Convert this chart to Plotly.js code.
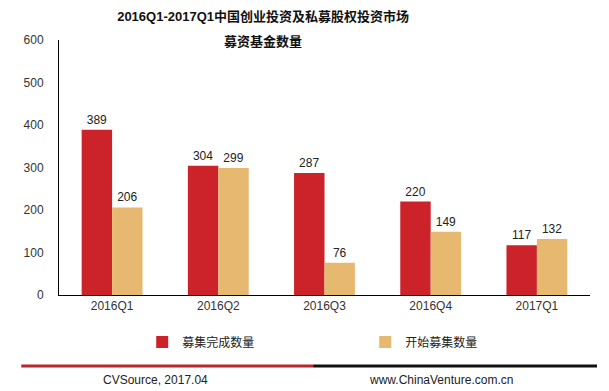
<!DOCTYPE html>
<html>
<head>
<meta charset="utf-8">
<script src="https://cdn.plot.ly/plotly-3.0.1.min.js"></script>
<style>html,body{margin:0;padding:0;background:#fff;}#chart{width:609px;height:391px;}</style>
</head>
<body>
<div id="chart"></div>
<script>
const categories = ['2016Q1', '2016Q2', '2016Q3', '2016Q4', '2017Q1'];
const completedFunds = [389, 304, 287, 220, 117];
const startedFunds = [206, 299, 76, 149, 132];
const seriesNames = ['募集完成数量', '开始募集数量'];
const yTicks = [0, 100, 200, 300, 400, 500, 600];

const FONT = '"Liberation Sans", Arial, "Noto Sans CJK SC", sans-serif';
const RED = '#cc2229';
const TAN = '#e7b870';

const traces = [
  {type: 'bar', name: seriesNames[0], x: categories, y: completedFunds,
   marker: {color: RED}, text: completedFunds.map(String), textposition: 'outside',
   textfont: {family: FONT, size: 12, color: '#222'}, cliponaxis: false},
  {type: 'bar', name: seriesNames[1], x: categories, y: startedFunds,
   marker: {color: TAN}, text: startedFunds.map(String), textposition: 'outside',
   textfont: {family: FONT, size: 12, color: '#222'}, cliponaxis: false}
];

const layout = {
  width: 609, height: 391,
  margin: {l: 58.75, r: 19, t: 40, b: 96, pad: 0},
  paper_bgcolor: '#fff', plot_bgcolor: '#fff',
  font: {family: FONT, size: 12, color: '#333'},
  barmode: 'group', bargap: 0.427, bargroupgap: 0,
  title: {text: '<b>2016Q1-2017Q1中国创业投资及私募股权投资市场</b>',
    x: 0.432, xanchor: 'center', y: 0.959, yanchor: 'middle',
    font: {family: FONT, size: 13, color: '#111'}},
  xaxis: {type: 'category', showline: true, linecolor: '#000', linewidth: 1,
    showgrid: false, ticks: '', tickfont: {family: FONT, size: 12, color: '#333'}},
  yaxis: {range: [0, 600], tickvals: yTicks, showline: true, linecolor: '#000', linewidth: 1,
    showgrid: false, zeroline: false, ticks: 'outside', ticklen: 12, tickcolor: 'rgba(0,0,0,0)',
    tickfont: {family: FONT, size: 12, color: '#333'}},
  showlegend: true,
  legend: {orientation: 'h', x: 0.1567, xanchor: 'left', y: -0.1843, yanchor: 'middle',
    entrywidth: 178, entrywidthmode: 'pixels', itemwidth: 30,
    font: {family: FONT, size: 12, color: '#222'}, bgcolor: 'rgba(0,0,0,0)'},
  annotations: [
    {text: '<b>募资基金数量</b>', xref: 'paper', yref: 'paper', x: 0.3845, y: 0.996,
     xanchor: 'center', yanchor: 'middle', showarrow: false,
     font: {family: FONT, size: 13, color: '#111'}},
    {text: 'CVSource, 2017.04', xref: 'paper', yref: 'paper', x: 0.1812, y: -0.3333,
     xanchor: 'center', yanchor: 'middle', showarrow: false,
     font: {family: FONT, size: 12, color: '#222'}},
    {text: 'www.ChinaVenture.com.cn', xref: 'paper', yref: 'paper', x: 0.7195, y: -0.3333,
     xanchor: 'center', yanchor: 'middle', showarrow: false,
     font: {family: FONT, size: 12, color: '#222'}}
  ],
  shapes: [
    {type: 'line', xref: 'paper', yref: 'paper', x0: -0.0711, x1: 0.4786, y0: -0.2784, y1: -0.2784,
     line: {color: '#b8282e', width: 3}},
    {type: 'line', xref: 'paper', yref: 'paper', x0: 0.4786, x1: 1.0132, y0: -0.2784, y1: -0.2784,
     line: {color: '#111', width: 3}}
  ]
};

Plotly.newPlot('chart', traces, layout, {displayModeBar: false, staticPlot: true});
</script>
</body>
</html>
